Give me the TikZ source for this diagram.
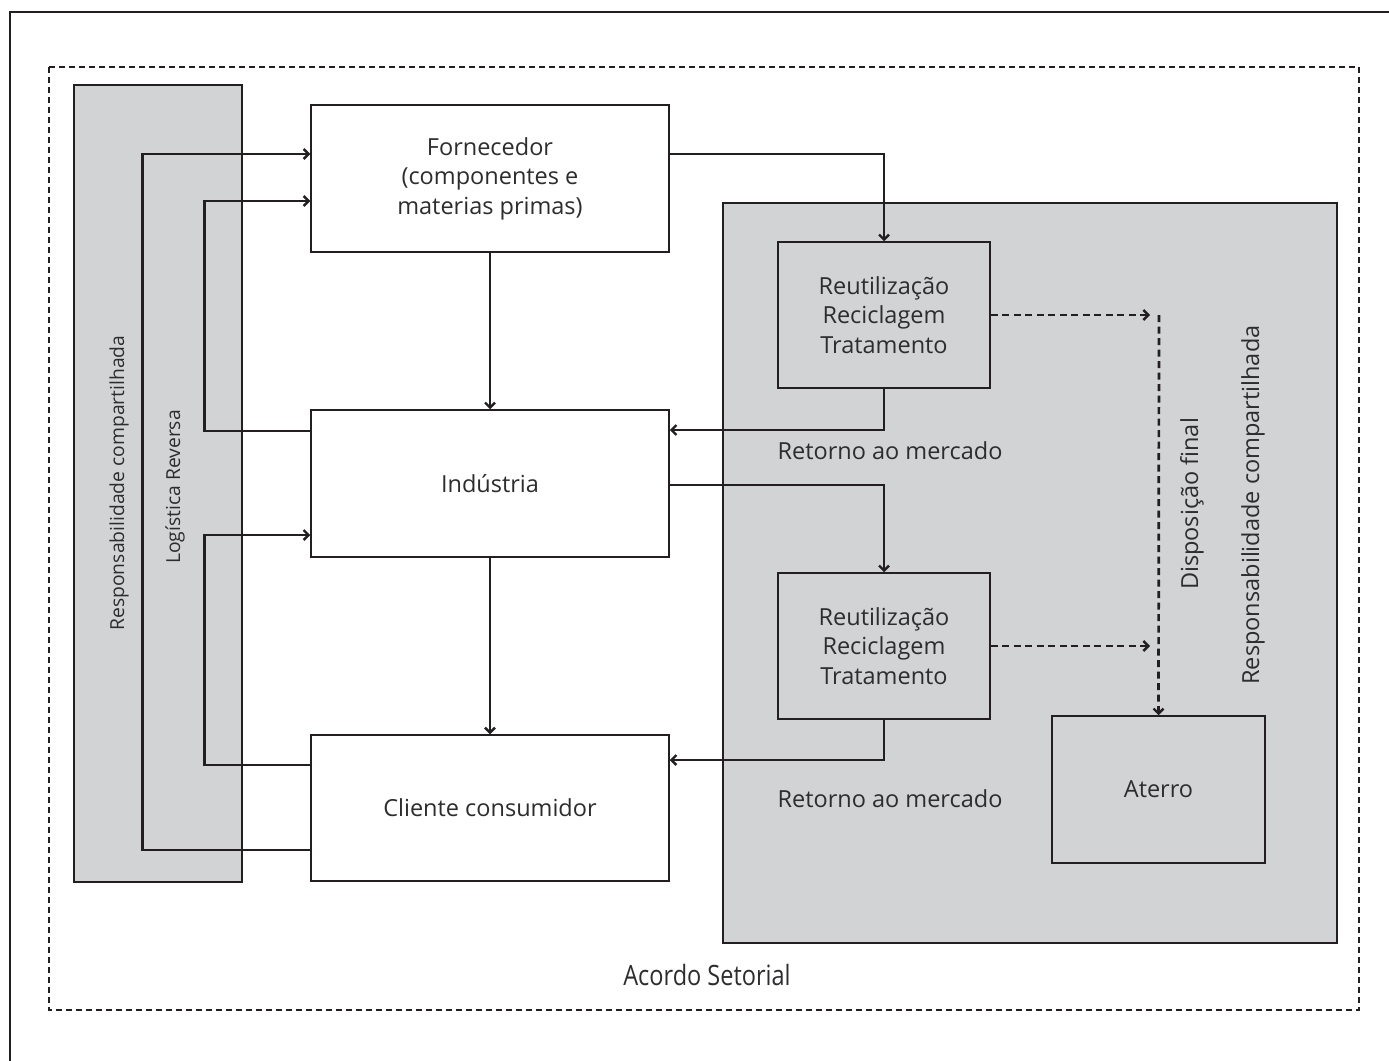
\documentclass[tikz,border=0pt]{standalone}
\usepackage{fontspec}
\setmainfont{Open Sans}
\newfontfamily\condfont[FakeStretch=0.84]{Open Sans}
\usetikzlibrary{arrows.meta,positioning,calc}
\definecolor{panelgray}{RGB}{209,211,212}
\definecolor{ink}{RGB}{35,31,32}
\definecolor{txt}{RGB}{45,45,47}
\tikzset{
  box/.style={draw=ink, line width=1.5pt, minimum width=358pt, minimum height=147pt, inner sep=0pt, align=center, font=\fontsize{23.5}{29.5}\selectfont, text=txt},
  smallbox/.style={box, minimum width=212pt, minimum height=146pt},
  conn/.style={draw=ink, line width=2.7pt, -{Straight Barb[length=5pt,width=10pt,line width=2.4pt]}},
  dconn/.style={draw=ink, line width=2.7pt, dash pattern=on 7pt off 4.5pt, -{Straight Barb[length=5pt,width=10pt,line width=2.4pt]}},
  lbl/.style={font=\fontsize{23.5}{28}\selectfont, text=txt, inner sep=0pt},
  slbl/.style={font=\fontsize{19.3}{24}\selectfont, text=txt, inner sep=0pt},
  panel/.style={fill=panelgray, draw=ink, line width=1.5pt}
}
\begin{document}
\begin{tikzpicture}[x=1pt,y=-1pt]
\useasboundingbox (0,0) rectangle (1389,1060);
% outer frame (cut off)
\draw[ink, line width=1.5pt] (10,1062) -- (10,12) -- (1391,12);
% dashed frame
\draw[ink, line width=1.1pt, dash pattern=on 6pt off 4pt] (49,67) rectangle (1359,1010);
% gray panels
\path[panel] (74,85) rectangle (242,882);
\path[panel] (723,203) rectangle (1337,943);
% labels in panels
\node[slbl, rotate=90] (resp1) at (119,483) {Responsabilidade compartilhada};
\node[slbl, rotate=90] (logrev) at (175,487) {Logística Reversa};
\node[lbl, rotate=90] (disp) at (1192,504) {Disposição final};
\node[lbl, rotate=90] (resp2) at (1253,505) {Responsabilidade compartilhada};
% boxes
\node[box, fill=white] (forn) at (490,178.5) {Fornecedor\\(componentes e\\materias primas)};
\node[box, fill=white] (ind) at (490,483.5) {Indústria};
\node[box, fill=white, minimum height=146pt] (cli) at (490,808) {Cliente consumidor};
\node[smallbox, fill=panelgray] (reu1) at (884,315) {Reutilização\\Reciclagem\\Tratamento};
\node[smallbox, fill=panelgray] (reu2) at (884,646) {Reutilização\\Reciclagem\\Tratamento};
\node[smallbox, minimum width=213pt, minimum height=147pt, fill=panelgray] (ater) at (1158.5,789.5) {Aterro};
% labels
\node[lbl] (ret1) at (890,451) {Retorno ao mercado};
\node[lbl] (ret2) at (890,799) {Retorno ao mercado};
\node[lbl, font=\condfont\fontsize{28}{32}\selectfont] (acordo) at (707,975) {Acordo Setorial};
% vertical flow
\draw[conn] (forn.south) -- (ind.north);
\draw[conn] (ind.south) -- (cli.north);
% left loops
\draw[conn] ([yshift=-42pt]cli.west) -- ++(-168pt,0) |- ([yshift=24.5pt]forn.west);
\draw[conn] ([yshift=52.5pt]ind.west) -- ++(-106pt,0) |- ([yshift=-22.5pt]forn.west);
\draw[conn] ([yshift=43pt]cli.west) -- ++(-106pt,0) |- ([yshift=-51.5pt]ind.west);
% right flows
\draw[conn] ([yshift=24.5pt]forn.east) -| (reu1.north);
\draw[conn] ([yshift=-1.5pt]ind.east) -| (reu2.north);
\draw[conn] (reu1.south) |- ([yshift=53.5pt]ind.east);
\draw[conn] (reu2.south) |- ([yshift=48pt]cli.east);
% dashed disposal
\coordinate (dtop) at (1159,315);
\coordinate (d1) at (1150,315);
\coordinate (d2) at (1150,646);
\draw[dconn] (reu1.east) -- (d1);
\draw[dconn] (reu2.east) -- (d2);
\draw[dconn] (dtop) -- (ater.north);
\end{tikzpicture}
\end{document}
